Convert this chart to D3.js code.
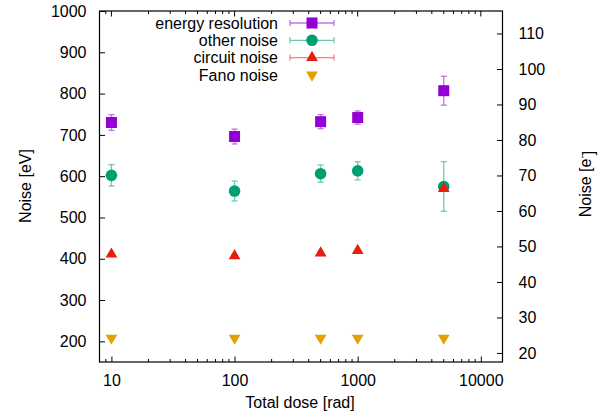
<!DOCTYPE html>
<html>
<head>
<meta charset="utf-8">
<script src="https://cdn.jsdelivr.net/npm/d3@7"></script>
<style>
  body { margin: 0; background: #fff; }
  text { font-family: "Liberation Sans", Arial, sans-serif; font-size: 16px; fill: #000; }
</style>
</head>
<body>
<script>
// data (noise in eV, dose in rad)
var dose = [10, 100, 500, 1000, 5000];

var energyRes = [730, 696, 732, 742, 807];
var energyResErr = [19, 18, 17, 16, 35];

var otherNoise = [602, 564, 606, 613, 575];
var otherNoiseErr = [26, 24, 21, 22, 60];

var circuitNoise = [411, 407, 414, 420, 570];
var circuitNoiseErr = [3, 3, 3, 3, 5];

var fanoNoise = [208, 208, 208, 208, 208];

var yTicks = [200, 300, 400, 500, 600, 700, 800, 900, 1000];
var y2Ticks = [20, 30, 40, 50, 60, 70, 80, 90, 100, 110];
var xTicks = [10, 100, 1000, 10000];

// eV -> electrons (FWHM of ENC in silicon)
var evPerElectron = 3.65 * 2.355;

var width = 609, height = 418;
var margin = {top: 11, right: 106.5, bottom: 56, left: 99.5};
var chartWidth = width - margin.left - margin.right;
var chartHeight = height - margin.top - margin.bottom;

var svg = d3.select("body").append("svg")
    .attr("width", width)
    .attr("height", height);

var chartGroup = svg.append("g")
    .attr("transform", `translate(${margin.left}, ${margin.top})`);

var x = d3.scaleLog().domain([8, 15000]).range([0, chartWidth]);
var y = d3.scaleLinear().domain([150, 1000]).range([chartHeight, 0]);
var y2 = d3.scaleLinear().domain([150 / evPerElectron, 1000 / evPerElectron]).range([chartHeight, 0]);

// minor ticks for the log axis
var minorTicks = [];
[1, 10, 100, 1000].forEach(function(dec) {
  for (var k = 2; k <= 9; k++) {
    var v = dec * k;
    if (v >= 8 && v <= 15000) minorTicks.push(v);
  }
});

var major = 5.5, minor = 3;

// bottom axis (ticks inward)
var bottomAxis = d3.axisBottom(x).tickValues(xTicks).tickFormat(d3.format("d"))
    .tickSizeInner(-major).tickSizeOuter(0).tickPadding(13);
var gx = chartGroup.append("g")
    .attr("transform", `translate(0, ${chartHeight})`)
    .call(bottomAxis);
gx.select(".domain").remove();

var ticksGroup = chartGroup.append("g").attr("stroke", "#000").attr("stroke-width", 1);
minorTicks.forEach(function(v) {
  ticksGroup.append("line")
    .attr("x1", x(v)).attr("x2", x(v))
    .attr("y1", chartHeight).attr("y2", chartHeight - minor);
  ticksGroup.append("line")
    .attr("x1", x(v)).attr("x2", x(v))
    .attr("y1", 0).attr("y2", minor);
});
xTicks.forEach(function(v) {
  ticksGroup.append("line")
    .attr("x1", x(v)).attr("x2", x(v))
    .attr("y1", 0).attr("y2", major);
});

var leftAxis = d3.axisLeft(y).tickValues(yTicks).tickFormat(d3.format("d"))
    .tickSizeInner(-major).tickSizeOuter(0).tickPadding(13);
var gy = chartGroup.append("g").call(leftAxis);
gy.select(".domain").remove();

var rightAxis = d3.axisRight(y2).tickValues(y2Ticks).tickFormat(d3.format("d"))
    .tickSizeInner(-major).tickSizeOuter(0).tickPadding(16);
var gy2 = chartGroup.append("g")
    .attr("transform", `translate(${chartWidth}, 0)`)
    .call(rightAxis);
gy2.select(".domain").remove();

svg.selectAll(".tick text")
    .style("font-family", "Liberation Sans, Arial, sans-serif")
    .style("font-size", "16px");

// border
chartGroup.append("rect")
    .attr("width", chartWidth).attr("height", chartHeight)
    .attr("fill", "none").attr("stroke", "#000").attr("stroke-width", 1.2);

// symbols
var tri = d3.symbol().type(d3.symbolTriangle).size(60);
function drawMarker(g, shape, color, cx, cy) {
  if (shape === "square") {
    g.append("rect").attr("x", cx - 5.5).attr("y", cy - 5.5)
      .attr("width", 11).attr("height", 11).attr("fill", color);
  } else if (shape === "circle") {
    g.append("circle").attr("cx", cx).attr("cy", cy).attr("r", 5.8).attr("fill", color);
  } else if (shape === "up") {
    g.append("path").attr("d", tri).attr("transform", `translate(${cx},${cy})`).attr("fill", color);
  } else {
    g.append("path").attr("d", tri).attr("transform", `translate(${cx},${cy}) rotate(180)`).attr("fill", color);
  }
}

function drawErr(g, color, cx, y1, y2v) {
  var e = g.append("g").attr("stroke", color).attr("stroke-width", 1.3).attr("opacity", 0.55);
  e.append("line").attr("x1", cx).attr("x2", cx).attr("y1", y1).attr("y2", y2v);
  e.append("line").attr("x1", cx - 3).attr("x2", cx + 3).attr("y1", y1).attr("y2", y1);
  e.append("line").attr("x1", cx - 3).attr("x2", cx + 3).attr("y1", y2v).attr("y2", y2v);
}

var series = [
  {name: "energy resolution", values: energyRes, err: energyResErr, color: "#9400d3", shape: "square"},
  {name: "other noise", values: otherNoise, err: otherNoiseErr, color: "#009e73", shape: "circle"},
  {name: "circuit noise", values: circuitNoise, err: circuitNoiseErr, color: "#e51e10", shape: "up"},
  {name: "Fano noise", values: fanoNoise, err: null, color: "#e69f00", shape: "down"}
];

// legend
var legend = svg.append("g");
series.forEach(function(s, i) {
  var ly = 23 + i * 17.3;
  legend.append("text")
    .attr("x", 278).attr("y", ly).attr("dy", "0.35em")
    .attr("text-anchor", "end")
    .text(s.name);
  if (s.err) {
    var e = legend.append("g").attr("stroke", s.color).attr("stroke-width", 1.3).attr("opacity", 0.55);
    e.append("line").attr("x1", 290).attr("x2", 334).attr("y1", ly).attr("y2", ly);
    e.append("line").attr("x1", 290).attr("x2", 290).attr("y1", ly - 3).attr("y2", ly + 3);
    e.append("line").attr("x1", 334).attr("x2", 334).attr("y1", ly - 3).attr("y2", ly + 3);
  }
  drawMarker(legend, s.shape, s.color, 312, ly);
});

// points
series.forEach(function(s) {
  var g = chartGroup.append("g");
  s.values.forEach(function(v, i) {
    var cx = x(dose[i]);
    if (s.err) drawErr(g, s.color, cx, y(v + s.err[i]), y(v - s.err[i]));
    drawMarker(g, s.shape, s.color, cx, y(v));
  });
});

// axis labels
svg.append("text")
    .attr("x", 300).attr("y", 402).attr("dy", "0.35em")
    .attr("text-anchor", "middle")
    .text("Total dose [rad]");

svg.append("text")
    .attr("transform", "translate(25, 186) rotate(-90)")
    .attr("dy", "0.35em")
    .attr("text-anchor", "middle")
    .text("Noise [eV]");

var r = svg.append("text")
    .attr("transform", "translate(585, 184) rotate(-90)")
    .attr("dy", "0.35em")
    .attr("text-anchor", "middle");
r.append("tspan").text("Noise [e");
r.append("tspan").attr("dy", "-0.6em").style("font-size", "10px").text("-");
r.append("tspan").attr("dy", "0.6em").text("]");
</script>
</body>
</html>
